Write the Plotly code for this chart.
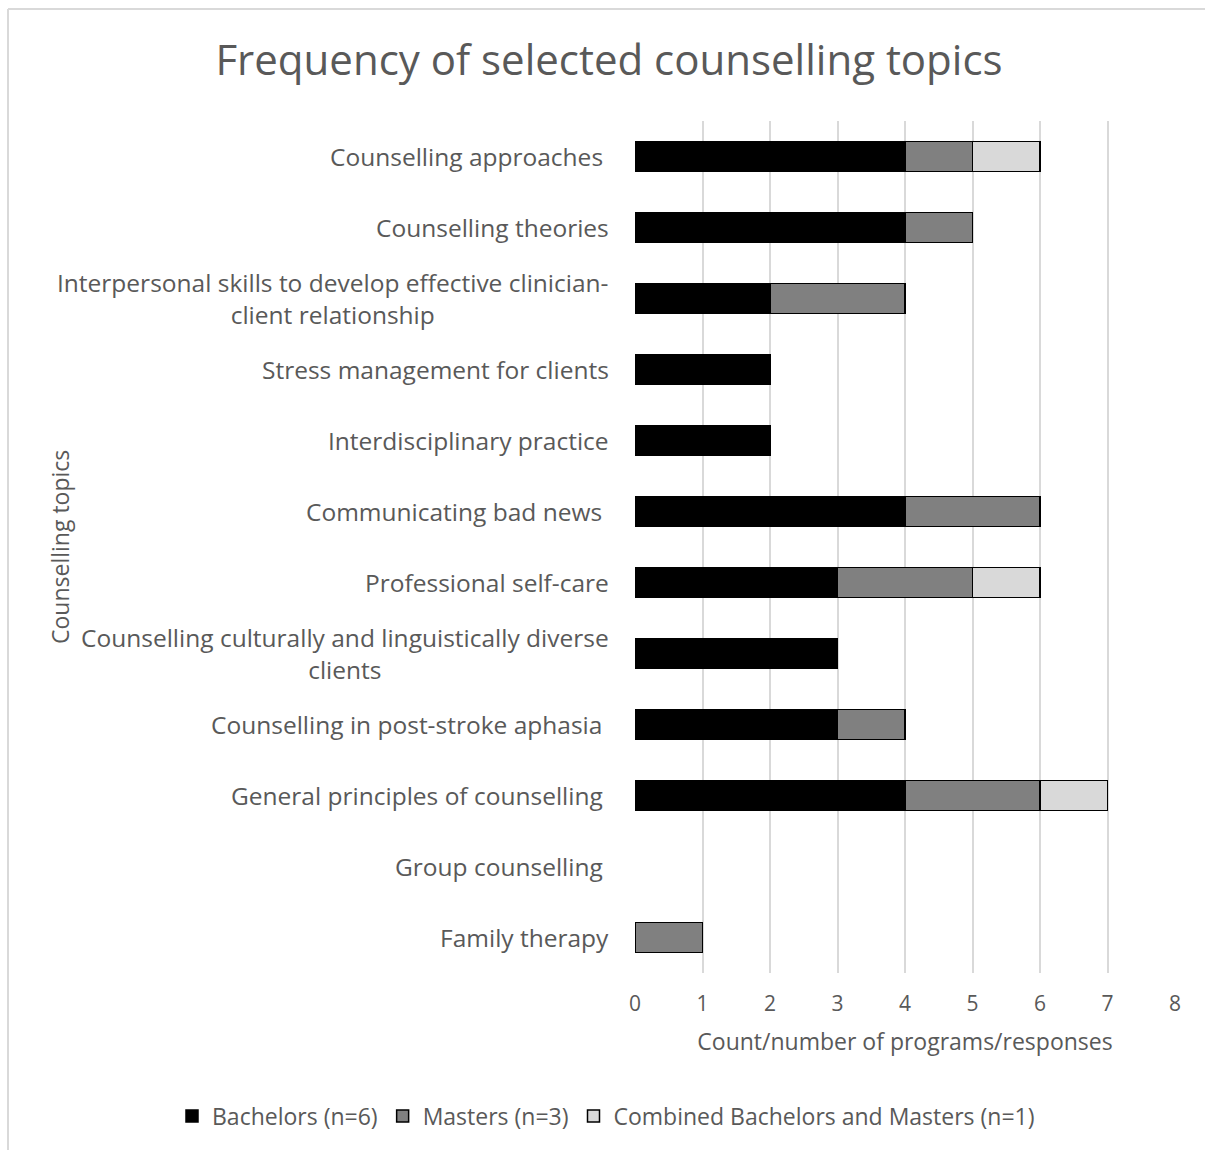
import plotly.graph_objects as go

# Counselling topics, listed top to bottom
topics = [
    "Counselling approaches ",
    "Counselling theories",
    "Interpersonal skills to develop effective clinician-<br>client relationship",
    "Stress management for clients",
    "Interdisciplinary practice",
    "Communicating bad news ",
    "Professional self-care",
    "Counselling culturally and linguistically diverse<br>clients",
    "Counselling in post-stroke aphasia ",
    "General principles of counselling ",
    "Group counselling ",
    "Family therapy",
]

bachelors = [4, 4, 2, 2, 2, 4, 3, 3, 3, 4, 0, 0]
masters = [1, 1, 2, 0, 0, 2, 2, 0, 1, 2, 0, 1]
combined = [1, 0, 0, 0, 0, 0, 1, 0, 0, 1, 0, 0]

series_names = ["Bachelors (n=6)", "Masters (n=3)", "Combined Bachelors and Masters (n=1)"]
series_values = [bachelors, masters, combined]
series_colors = ["#000000", "#808080", "#d9d9d9"]

x_ticks = [0, 1, 2, 3, 4, 5, 6, 7, 8]

TEXT = "#595959"
FONT = "Open Sans"

W, H = 1205, 1150
ML, MR, MT, MB = 635, 30, 121, 177
PW = W - ML - MR
PH = H - MT - MB

fig = go.Figure()
for name, vals, col in zip(series_names, series_values, series_colors):
    fig.add_trace(go.Bar(
        y=topics,
        x=[v if v else None for v in vals],
        name=name,
        orientation="h",
        marker=dict(color=col, line=dict(color="#000000", width=1.5)),
        width=0.42,
    ))

annotations = []
# Category labels, right-aligned against the axis with centred line wrapping
for t in topics:
    annotations.append(dict(
        xref="paper", yref="y", x=0, y=t, xshift=-24,
        text=t, showarrow=False, xanchor="right", yanchor="middle",
        align="center", font=dict(family=FONT, size=24.5, color=TEXT),
    ))
# Vertical axis title
annotations.append(dict(
    xref="paper", yref="paper", x=(60 - ML) / PW, y=0.5,
    text="Counselling topics", textangle=-90, showarrow=False,
    xanchor="center", yanchor="middle",
    font=dict(family=FONT, size=23, color=TEXT),
))

fig.update_layout(
    width=W, height=H,
    margin=dict(l=ML, r=MR, t=MT, b=MB, autoexpand=False),
    paper_bgcolor="white", plot_bgcolor="white",
    barmode="stack",
    title=dict(
        text="Frequency of selected counselling topics",
        x=609 / W, xref="container", xanchor="center",
        y=1 - 60 / H, yref="container", yanchor="middle",
        font=dict(family=FONT, size=42, color=TEXT),
    ),
    xaxis=dict(
        range=[0, 8], tickvals=x_ticks,
        showgrid=True, gridcolor="#d9d9d9", gridwidth=1.5,
        zeroline=False, showline=False,
        ticks="outside", ticklen=12, tickcolor="rgba(0,0,0,0)",
        tickfont=dict(family=FONT, size=21, color=TEXT),
        title=dict(text="Count/number of programs/responses",
                   font=dict(family=FONT, size=23, color=TEXT), standoff=17),
        fixedrange=True,
    ),
    yaxis=dict(
        autorange="reversed", showticklabels=False, showgrid=False,
        zeroline=False, showline=False, ticks="", fixedrange=True,
    ),
    legend=dict(
        orientation="h", traceorder="normal",
        x=(172 - ML) / PW, xanchor="left",
        y=-(1116 - (H - MB)) / PH, yanchor="middle",
        font=dict(family=FONT, size=23, color=TEXT),
        itemwidth=30,
    ),
    annotations=annotations,
    shapes=[
        # chart frame
        dict(type="line", xref="paper", yref="paper",
             x0=(8 - ML) / PW, x1=(W + 5 - ML) / PW,
             y0=(H - MB - 9) / PH, y1=(H - MB - 9) / PH,
             line=dict(color="#d9d9d9", width=2)),
        dict(type="line", xref="paper", yref="paper",
             x0=(8 - ML) / PW, x1=(8 - ML) / PW,
             y0=(H - MB - 9) / PH, y1=-(MB + 5) / PH,
             line=dict(color="#d9d9d9", width=2)),
    ],
)

fig.write_html("out.html")
